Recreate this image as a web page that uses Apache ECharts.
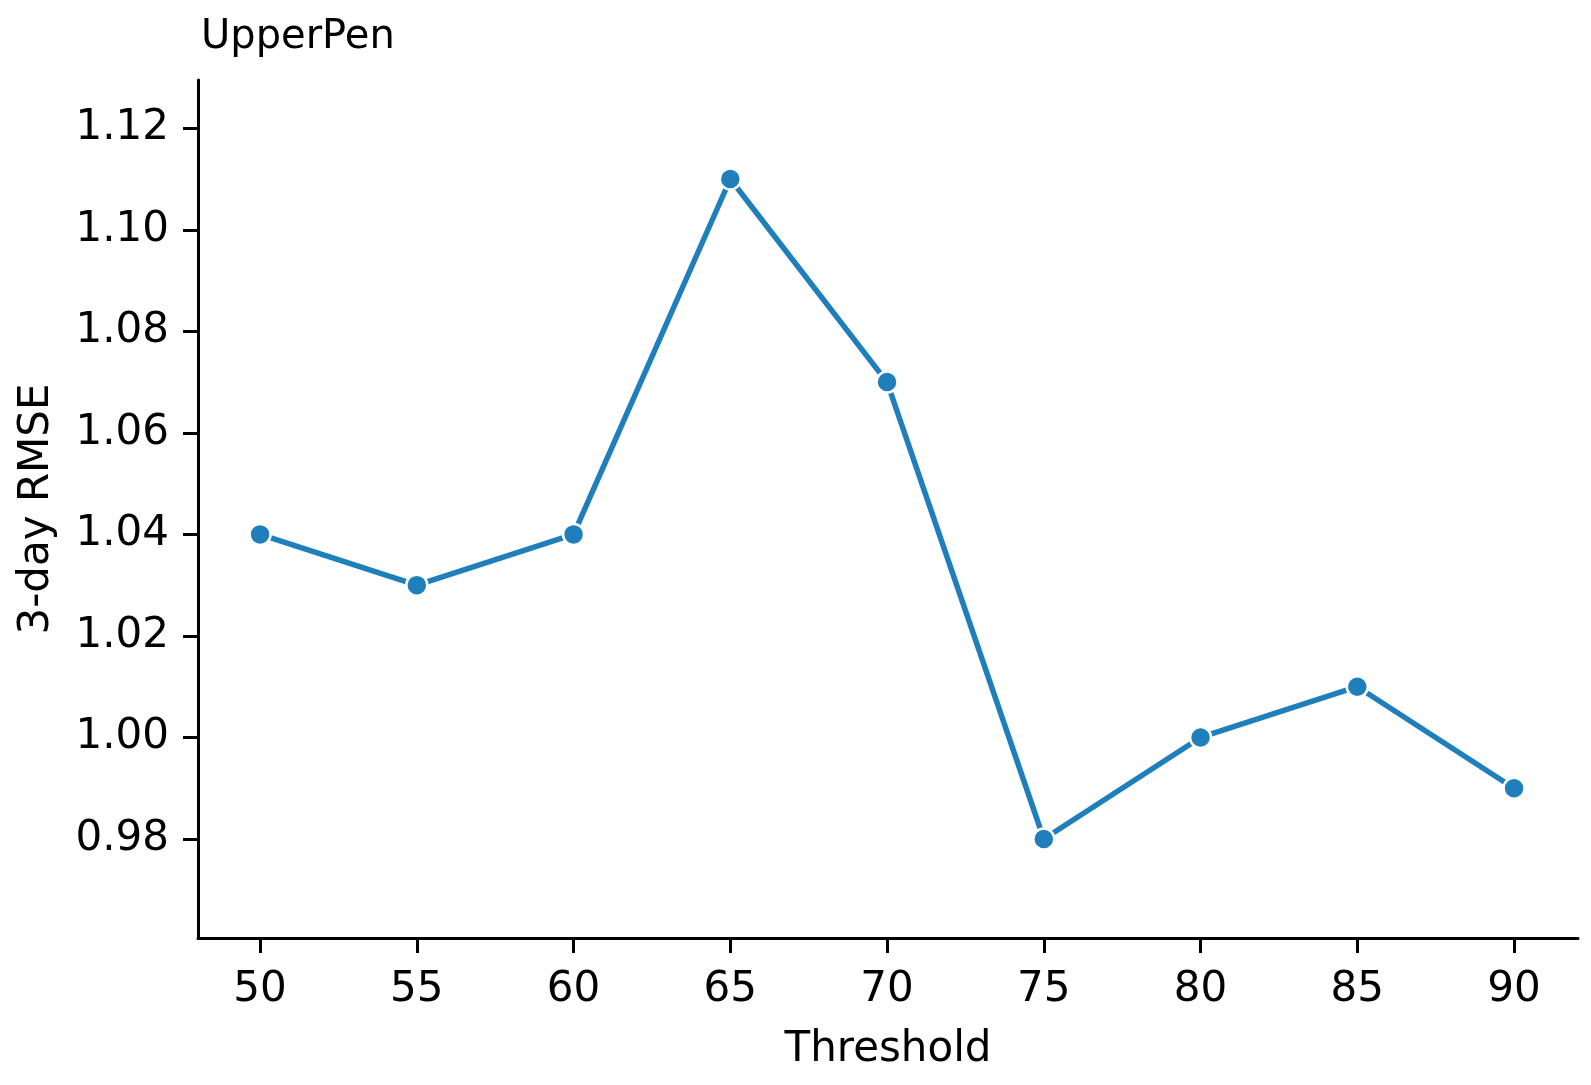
<!DOCTYPE html>
<html lang="en">
<head>
    <meta charset="UTF-8"/>
    <title>UpperPen</title>
    <script src="https://cdn.jsdelivr.net/npm/echarts@6/dist/echarts.min.js"></script>
    <style>
        html, body { margin: 0; padding: 0; background: #fff; }
    </style>
</head>
<body>
<div id="main" style="width: 1591px;height:1085px;"></div>

<script type="text/javascript">
    // data
    var thresholds = [50, 55, 60, 65, 70, 75, 80, 85, 90];
    var rmse = [1.04, 1.03, 1.04, 1.11, 1.07, 0.98, 1.00, 1.01, 0.99];
    var xTicks = [50, 55, 60, 65, 70, 75, 80, 85, 90];
    var yTicks = [0.98, 1.00, 1.02, 1.04, 1.06, 1.08, 1.10, 1.12];

    var font = 'DejaVu Sans';
    var points = [];
    for (var i = 0; i < thresholds.length; i++) {
        points.push([thresholds[i], rmse[i]]);
    }

    var myChart = echarts.init(document.getElementById('main'));
    var option = {
        animation: false,
        title: {
            text: 'UpperPen',
            left: 196,
            top: 13,
            textStyle: { fontFamily: font, fontSize: 40, fontWeight: 'normal', color: '#000' }
        },
        grid: { left: 198, right: 13, top: 80, bottom: 147 },
        xAxis: {
            type: 'value',
            min: 48.02,
            max: 92.04,
            name: 'Threshold',
            nameLocation: 'middle',
            nameGap: 91,
            nameTextStyle: { fontFamily: font, fontSize: 42, color: '#000' },
            axisLine: { lineStyle: { color: '#000', width: 3 } },
            axisTick: { length: 15, lineStyle: { color: '#000', width: 3 }, customValues: xTicks },
            axisLabel: { fontFamily: font, fontSize: 42, color: '#000', margin: 31, customValues: xTicks },
            splitLine: { show: false }
        },
        yAxis: {
            type: 'value',
            min: 0.9605,
            max: 1.1295,
            name: '3-day RMSE',
            nameLocation: 'middle',
            nameGap: 140,
            nameTextStyle: { fontFamily: font, fontSize: 42, color: '#000' },
            axisLine: { show: true, lineStyle: { color: '#000', width: 3 } },
            axisTick: { show: true, length: 15, lineStyle: { color: '#000', width: 3 }, customValues: yTicks },
            axisLabel: {
                fontFamily: font, fontSize: 42, color: '#000', margin: 29, customValues: yTicks,
                formatter: function (v) { return v.toFixed(2); }
            },
            splitLine: { show: false }
        },
        series: [
            {
                type: 'line',
                data: points,
                symbol: 'circle',
                symbolSize: 21,
                lineStyle: { color: '#1f7fbd', width: 5.5 },
                itemStyle: { color: '#1f7fbd', borderColor: '#fff', borderWidth: 2.5 }
            }
        ]
    };
    myChart.setOption(option);
</script>
</body>
</html>
